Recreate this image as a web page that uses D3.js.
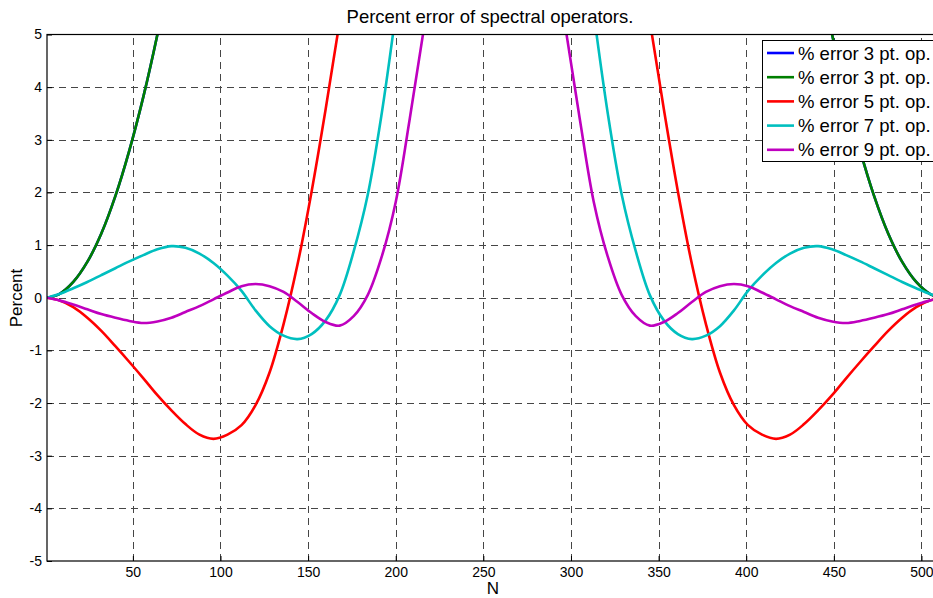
<!DOCTYPE html>
<html>
<head>
<meta charset="utf-8">
<script src="https://cdn.jsdelivr.net/npm/d3@7"></script>
<style>
  html, body { margin: 0; padding: 0; background: #fff; }
  svg { display: block; font-family: "Liberation Sans", Arial, Helvetica, sans-serif; }
</style>
</head>
<body>
<svg id="chart" width="933" height="598"></svg>
<script>
// Sample points along N (wavenumber index); null = off the top of the axes
const nGrid = [1, 8, 16, 24, 32, 40, 48, 56, 64, 72, 80, 88, 96, 104, 112, 120, 128,
  136, 144, 152, 160, 168, 176, 184, 192, 200, 208, 216, 224, 232, 240, 248, 256,
  257, 265, 273, 281, 289, 297, 305, 313, 321, 329, 337, 345, 353, 361, 369, 377,
  385, 393, 401, 409, 417, 425, 433, 441, 449, 457, 465, 473, 481, 489, 497, 505, 512];

const err3a = [0, 0.07, 0.3, 0.68, 1.22, 1.93, 2.8, 3.82, 5.0, 6.35,
  null, null, null, null, null, null, null, null, null, null, null, null, null,
  null, null, null, null, null, null, null, null, null, null,
  null, null, null, null, null, null, null, null, null, null,
  null, null, null, null, null, null, null, null, null, null, null, null, null,
  6.35, 5.0, 3.82, 2.8, 1.93, 1.22, 0.68, 0.3, 0.07, 0];

const err3b = [0, 0.07, 0.3, 0.68, 1.22, 1.93, 2.8, 3.82, 5.0, 6.35,
  null, null, null, null, null, null, null, null, null, null, null, null, null,
  null, null, null, null, null, null, null, null, null, null,
  null, null, null, null, null, null, null, null, null, null,
  null, null, null, null, null, null, null, null, null, null, null, null, null,
  6.35, 5.0, 3.82, 2.8, 1.93, 1.22, 0.68, 0.3, 0.07, 0];

const err5 = [0, -0.05, -0.18, -0.38, -0.63, -0.92, -1.22, -1.53, -1.85, -2.14, -2.4,
  -2.6, -2.68, -2.6, -2.42, -2.04, -1.42, -0.5, 0.64, 2.02, 3.58, 5.25, 7.0,
  null, null, null, null, null, null, null, null, null, null,
  null, null, null, null, null, null, null, null, null, null,
  7.0, 5.25, 3.58, 2.02, 0.64, -0.5, -1.42, -2.04, -2.42, -2.6, -2.68, -2.6,
  -2.4, -2.14, -1.85, -1.53, -1.22, -0.92, -0.63, -0.38, -0.18, -0.05, 0];

const err7 = [0, 0.07, 0.18, 0.3, 0.43, 0.56, 0.69, 0.81, 0.92, 0.98, 0.95, 0.84, 0.66,
  0.42, 0.13, -0.24, -0.54, -0.72, -0.785, -0.69, -0.43, 0.05, 0.88, 1.95, 3.5, 5.4, 7.5,
  null, null, null, null, null, null,
  null, null, null, null, null, null,
  7.5, 5.4, 3.5, 1.95, 0.88, 0.05, -0.43, -0.69, -0.785, -0.72, -0.54, -0.24, 0.13,
  0.42, 0.66, 0.84, 0.95, 0.98, 0.92, 0.81, 0.69, 0.56, 0.43, 0.3, 0.18, 0.07, 0];

const err9 = [0, -0.05, -0.13, -0.22, -0.31, -0.38, -0.44, -0.48, -0.45, -0.38, -0.27,
  -0.16, -0.03, 0.1, 0.22, 0.26, 0.22, 0.11, -0.08, -0.29, -0.46, -0.53, -0.35,
  0.05, 0.78, 1.82, 3.4, 5.1, 7.0,
  null, null, null, null,
  null, null, null, null,
  7.0, 5.1, 3.4, 1.82, 0.78, 0.05, -0.35, -0.53, -0.46, -0.29, -0.08, 0.11, 0.22,
  0.26, 0.22, 0.1, -0.03, -0.16, -0.27, -0.38, -0.45, -0.48, -0.44, -0.38, -0.31,
  -0.22, -0.13, -0.05, 0];

const seriesNames = ["% error 3 pt. op.", "% error 3 pt. op.", "% error 5 pt. op.",
  "% error 7 pt. op.", "% error 9 pt. op."];
const seriesColors = ["#0000ff", "#007f00", "#ff0000", "#00bfbf", "#bf00bf"];
const seriesValues = [err3a, err3b, err5, err7, err9];

const xTicks = [50, 100, 150, 200, 250, 300, 350, 400, 450, 500];
const yTicks = [-5, -4, -3, -2, -1, 0, 1, 2, 3, 4, 5];

const svg = d3.select("#chart");
const plot = { left: 47, top: 34.5, right: 942.5, bottom: 561 };

const x = d3.scaleLinear().domain([1, 512]).range([plot.left, plot.right]);
const y = d3.scaleLinear().domain([-5, 5]).range([plot.bottom, plot.top]);

svg.append("defs").append("clipPath").attr("id", "plotClip")
  .append("rect")
  .attr("x", plot.left).attr("y", plot.top)
  .attr("width", plot.right - plot.left).attr("height", plot.bottom - plot.top);

// dashed grid
const grid = svg.append("g").attr("stroke", "#262626").attr("stroke-width", 1)
  .attr("stroke-dasharray", "7,5").attr("opacity", 0.85);
grid.selectAll("line.v").data(xTicks).join("line")
  .attr("x1", d => Math.round(x(d)) + 0.5).attr("x2", d => Math.round(x(d)) + 0.5)
  .attr("y1", plot.bottom).attr("y2", plot.top);
grid.selectAll("line.h").data(yTicks.filter(d => d > -5 && d < 5)).join("line")
  .attr("x1", plot.left).attr("x2", plot.right)
  .attr("y1", d => Math.round(y(d)) + 0.5).attr("y2", d => Math.round(y(d)) + 0.5);

// axes (plain hyphen for negative labels)
const fmt = d => String(d);
const xAxis = svg.append("g").attr("transform", `translate(0,${plot.bottom})`)
  .call(d3.axisBottom(x).tickValues(xTicks).tickFormat(fmt)
    .tickSizeInner(-5).tickSizeOuter(0).tickPadding(6));
const yAxis = svg.append("g").attr("transform", `translate(${plot.left},0)`)
  .call(d3.axisLeft(y).tickValues(yTicks).tickFormat(fmt)
    .tickSizeInner(-5).tickSizeOuter(0).tickPadding(5));
[xAxis, yAxis].forEach(a => {
  a.select(".domain").remove();
  a.selectAll("text").attr("font-size", 14).attr("fill", "#000")
    .attr("font-family", "'Liberation Sans', Arial, sans-serif");
  a.selectAll("line").attr("stroke", "#000");
});

// curves
const line = d3.line()
  .defined(d => d[1] !== null)
  .x(d => x(d[0])).y(d => y(d[1]))
  .curve(d3.curveCatmullRom.alpha(0.5));

const curves = svg.append("g").attr("clip-path", "url(#plotClip)");
seriesValues.forEach((vals, i) => {
  curves.append("path")
    .datum(nGrid.map((n, j) => [n, vals[j]]))
    .attr("fill", "none")
    .attr("stroke", seriesColors[i])
    .attr("stroke-width", 2.6)
    .attr("stroke-linejoin", "round")
    .attr("d", line);
});

// axes box
svg.append("rect")
  .attr("x", plot.left).attr("y", plot.top)
  .attr("width", plot.right - plot.left).attr("height", plot.bottom - plot.top)
  .attr("fill", "none").attr("stroke", "#000").attr("stroke-width", 1.2);

// title and axis labels
svg.append("text").attr("x", 490).attr("y", 23).attr("text-anchor", "middle")
  .attr("font-size", 18.5).text("Percent error of spectral operators.");
svg.append("text").attr("x", 493).attr("y", 594).attr("text-anchor", "middle")
  .attr("font-size", 17).text("N");
svg.append("text").attr("transform", "translate(22,298) rotate(-90)")
  .attr("text-anchor", "middle").attr("font-size", 17).text("Percent");

// legend
const legend = svg.append("g").attr("transform", "translate(762,40)");
legend.append("rect").attr("x", 0.5).attr("y", 0.5).attr("width", 200).attr("height", 121)
  .attr("fill", "#fff").attr("stroke", "#000").attr("stroke-width", 1);
seriesNames.forEach((name, i) => {
  const ry = 13 + i * 24.2;
  legend.append("line").attr("x1", 5).attr("x2", 32).attr("y1", ry).attr("y2", ry)
    .attr("stroke", seriesColors[i]).attr("stroke-width", 2.6);
  legend.append("text").attr("x", 36).attr("y", ry).attr("dy", "0.36em")
    .attr("font-size", 18.5).text(name);
});
</script>
</body>
</html>
